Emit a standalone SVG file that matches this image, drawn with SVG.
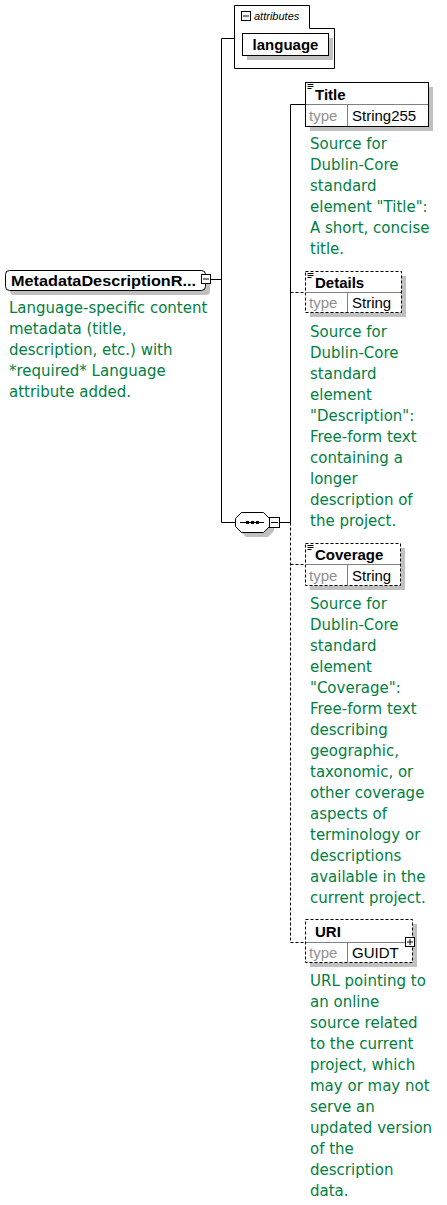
<svg xmlns="http://www.w3.org/2000/svg" width="447" height="1205" viewBox="0 0 447 1205">
<style>
.sh{fill:#c0c0c0}
.bx{fill:#fff;stroke:#000;stroke-width:1}
.dbx{fill:#fff;stroke:#000;stroke-width:1;stroke-dasharray:3,2}
.ln{stroke:#000;stroke-width:1;fill:none}
.dl{stroke:#000;stroke-width:1;fill:none;stroke-dasharray:3,2}
.sep{stroke:#808080;stroke-width:1}
.nm{font-family:"Liberation Sans",Arial,sans-serif;font-size:15px;font-weight:bold;fill:#000}
.ty{font-family:"Liberation Sans",Arial,sans-serif;font-size:15px;fill:#909090}
.tv{font-family:"Liberation Sans",Arial,sans-serif;font-size:15px;fill:#000}
.ds{font-family:"DejaVu Sans",Verdana,sans-serif;font-size:15px;fill:#007f3f}
.at{font-family:"Liberation Sans",Arial,sans-serif;font-size:11px;font-style:italic;fill:#000}
</style>
<defs>
<g id="ico"><line x1="0" y1="0" x2="6" y2="0" class="ln"/><line x1="0" y1="2" x2="6" y2="2" class="ln"/><line x1="0" y1="4" x2="4" y2="4" class="ln"/></g>
</defs>
<g id="connectors">
<line x1="211" y1="279.5" x2="221.5" y2="279.5" class="ln"/>
<line x1="221.5" y1="38.5" x2="221.5" y2="522.5" class="ln"/>
<line x1="221.5" y1="38.5" x2="234" y2="38.5" class="ln"/>
<line x1="221.5" y1="522.5" x2="235" y2="522.5" class="ln"/>
<line x1="279" y1="522.5" x2="290.5" y2="522.5" class="ln"/>
<line x1="290.5" y1="104.5" x2="290.5" y2="522.5" class="ln"/>
<line x1="290.5" y1="522.5" x2="290.5" y2="942.5" class="dl"/>
<line x1="290.5" y1="104.5" x2="305" y2="104.5" class="ln"/>
<line x1="290.5" y1="292.5" x2="305" y2="292.5" class="dl"/>
<line x1="290.5" y1="564.5" x2="305" y2="564.5" class="dl"/>
<line x1="290.5" y1="942.5" x2="305" y2="942.5" class="dl"/>
</g>
<g id="root">
<rect x="10" y="275" width="200" height="20" rx="4" class="sh"/>
<rect x="5.5" y="270.5" width="200" height="20" rx="4" class="bx"/>
<text x="11" y="286" class="nm" textLength="185" lengthAdjust="spacingAndGlyphs">MetadataDescriptionR...</text>
<rect x="201.5" y="274.5" width="9" height="9" class="bx"/>
<line x1="203" y1="279" x2="209" y2="279" class="ln"/>
<text class="ds"><tspan x="9" y="313">Language-specific content</tspan><tspan x="9" y="334">metadata (title,</tspan><tspan x="9" y="355">description, etc.) with</tspan><tspan x="9" y="376">*required* Language</tspan><tspan x="9" y="397">attribute added.</tspan></text>
</g>
<g id="attributes">
<path d="M234.5,5.5 H309.5 V28.5 H334.5 V68.5 H234.5 Z" class="bx"/>
<rect x="241.5" y="11.5" width="9" height="9" class="bx"/>
<line x1="243" y1="16" x2="249" y2="16" class="ln"/>
<text x="254" y="20" class="at">attributes</text>
</g>
<g id="language">
<rect x="247" y="38" width="86" height="22" class="sh"/>
<rect x="242.5" y="33.5" width="86" height="22" class="bx"/>
<text x="285.5" y="50" text-anchor="middle" class="nm">language</text>
</g>
<g id="sequence">
<path d="M246,517 H268 L274,523 V531 L268,537 H246 L240,531 V523 Z" class="sh"/>
<path d="M241.5,512.5 H263.5 L269.5,518.5 V526.5 L263.5,532.5 H241.5 L235.5,526.5 V518.5 Z" class="bx"/>
<line x1="240" y1="522.5" x2="264" y2="522.5" class="ln"/>
<rect x="246" y="521" width="3" height="3" fill="#000"/>
<rect x="251" y="521" width="3" height="3" fill="#000"/>
<rect x="256" y="521" width="3" height="3" fill="#000"/>
<rect x="269.5" y="517.5" width="10" height="10" class="bx"/>
<line x1="271" y1="522.5" x2="278" y2="522.5" class="ln"/>
</g>
<g id="title">
<rect x="310" y="87" width="123" height="44" class="sh"/>
<rect x="305.5" y="82.5" width="123" height="44" class="bx"/>
<line x1="306" y1="104.5" x2="428" y2="104.5" class="sep"/>
<line x1="347.5" y1="105" x2="347.5" y2="126" class="sep"/>
<use href="#ico" x="307.5" y="84.5"/>
<text x="315" y="100" class="nm">Title</text>
<text x="309" y="121" class="ty">type</text>
<text x="352" y="121" class="tv">String255</text>
<text class="ds"><tspan x="310" y="149">Source for</tspan><tspan x="310" y="170">Dublin-Core</tspan><tspan x="310" y="191">standard</tspan><tspan x="310" y="212">element "Title":</tspan><tspan x="310" y="233">A short, concise</tspan><tspan x="310" y="254">title.</tspan></text>
</g>
<g id="details">
<rect x="310" y="276" width="96" height="41" class="sh"/>
<rect x="305.5" y="271.5" width="96" height="41" class="dbx"/>
<line x1="306" y1="292.5" x2="401" y2="292.5" class="sep"/>
<line x1="347.5" y1="293" x2="347.5" y2="312" class="sep"/>
<use href="#ico" x="307.5" y="273.5"/>
<text x="315" y="288" class="nm">Details</text>
<text x="309" y="308" class="ty">type</text>
<text x="352" y="308" class="tv">String</text>
<text class="ds"><tspan x="310" y="337">Source for</tspan><tspan x="310" y="358">Dublin-Core</tspan><tspan x="310" y="379">standard</tspan><tspan x="310" y="400">element</tspan><tspan x="310" y="421">"Description":</tspan><tspan x="310" y="442">Free-form text</tspan><tspan x="310" y="463">containing a</tspan><tspan x="310" y="484">longer</tspan><tspan x="310" y="505">description of</tspan><tspan x="310" y="526">the project.</tspan></text>
</g>
<g id="coverage">
<rect x="310" y="548" width="95" height="42" class="sh"/>
<rect x="305.5" y="543.5" width="95" height="42" class="dbx"/>
<line x1="306" y1="564.5" x2="400" y2="564.5" class="sep"/>
<line x1="347.5" y1="565" x2="347.5" y2="585" class="sep"/>
<use href="#ico" x="307.5" y="545.5"/>
<text x="315" y="560" class="nm">Coverage</text>
<text x="309" y="581" class="ty">type</text>
<text x="352" y="581" class="tv">String</text>
<text class="ds"><tspan x="310" y="609">Source for</tspan><tspan x="310" y="630">Dublin-Core</tspan><tspan x="310" y="651">standard</tspan><tspan x="310" y="672">element</tspan><tspan x="310" y="693">"Coverage":</tspan><tspan x="310" y="714">Free-form text</tspan><tspan x="310" y="735">describing</tspan><tspan x="310" y="756">geographic,</tspan><tspan x="310" y="777">taxonomic, or</tspan><tspan x="310" y="798">other coverage</tspan><tspan x="310" y="819">aspects of</tspan><tspan x="310" y="840">terminology or</tspan><tspan x="310" y="861">descriptions</tspan><tspan x="310" y="882">available in the</tspan><tspan x="310" y="903">current project.</tspan></text>
</g>
<g id="uri">
<rect x="310" y="924" width="107" height="43" class="sh"/>
<rect x="305.5" y="919.5" width="107" height="43" class="dbx"/>
<line x1="306" y1="942.5" x2="412" y2="942.5" class="sep"/>
<line x1="347.5" y1="943" x2="347.5" y2="962" class="sep"/>
<text x="315" y="937" class="nm">URI</text>
<text x="309" y="958" class="ty">type</text>
<text x="352" y="958" class="tv">GUIDT</text>
<rect x="405.5" y="937.5" width="9" height="9" class="bx"/>
<line x1="407" y1="942" x2="413" y2="942" class="ln"/>
<line x1="410" y1="939" x2="410" y2="945" class="ln"/>
<text class="ds"><tspan x="310" y="986">URL pointing to</tspan><tspan x="310" y="1007">an online</tspan><tspan x="310" y="1028">source related</tspan><tspan x="310" y="1049">to the current</tspan><tspan x="310" y="1070">project, which</tspan><tspan x="310" y="1091">may or may not</tspan><tspan x="310" y="1112">serve an</tspan><tspan x="310" y="1133">updated version</tspan><tspan x="310" y="1154">of the</tspan><tspan x="310" y="1175">description</tspan><tspan x="310" y="1196">data.</tspan></text>
</g>
</svg>
